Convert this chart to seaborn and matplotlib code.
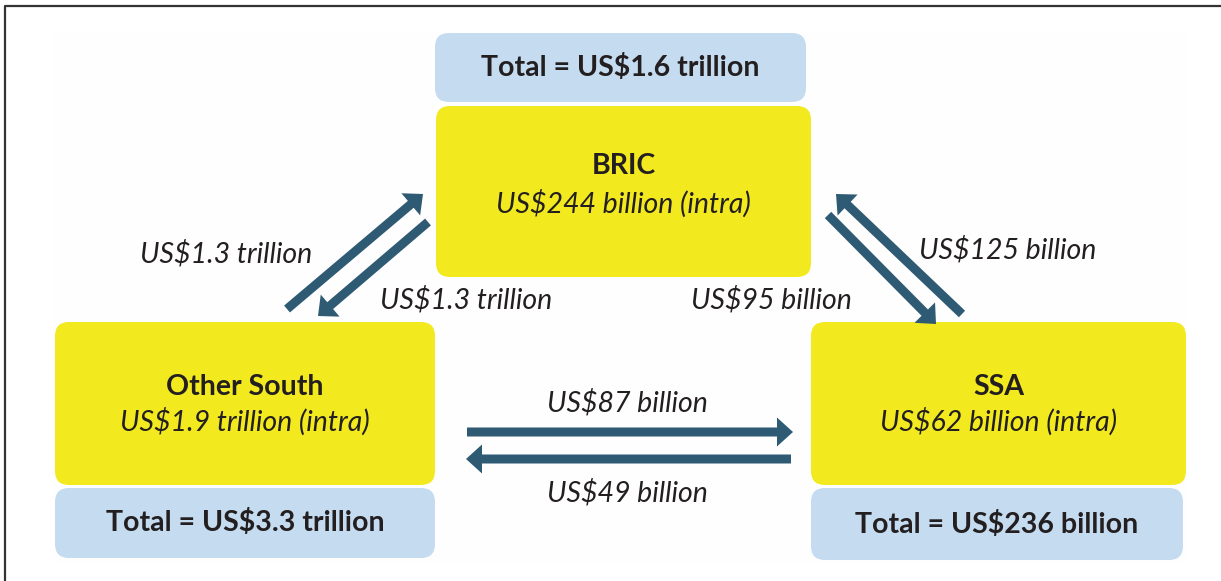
import matplotlib.pyplot as plt
import seaborn as sns
from matplotlib.patches import FancyBboxPatch, FancyArrow

# data
regions = ["BRIC", "Other South", "SSA"]
intra = ["US$244 billion (intra)", "US$1.9 trillion (intra)", "US$62 billion (intra)"]
totals = ["Total = US$1.6 trillion", "Total = US$3.3 trillion", "Total = US$236 billion"]
flow_src = ["Other South", "BRIC", "BRIC", "SSA", "Other South", "SSA"]
flow_dst = ["BRIC", "Other South", "SSA", "BRIC", "SSA", "Other South"]
flow_labels = ["US$1.3 trillion", "US$1.3 trillion", "US$95 billion",
               "US$125 billion", "US$87 billion", "US$49 billion"]

sns.set_style("white")
plt.rcParams["font.family"] = ["Lato", "DejaVu Sans"]

yellow = "#F2EA1F"
blue = "#C5DBF0"
arrow_col = "#2F5A73"
txt = "#231F20"
fs = 20.5

# layout (pixel units, y down)
box = {"BRIC": (436, 106, 375, 171), "Other South": (55, 322, 380, 163), "SSA": (811, 322, 375, 163)}
name_y = {"BRIC": 166, "Other South": 387, "SSA": 387}
sub_y = {"BRIC": 204, "Other South": 422, "SSA": 422}
tot = {"BRIC": (435, 33, 371, 69), "Other South": (55, 488, 380, 70), "SSA": (811, 488, 372, 72)}
arrows = [((287, 309), (423, 194)), ((428, 222), (318, 316)), ((828, 215), (936, 324)),
          ((962, 314), (836, 194)), ((467, 432), (793, 432)), ((791, 459), (466, 459))]
label_pos = [(226, 254), (466, 300), (771, 300), (1008, 250), (627, 403), (627, 493)]

fig = plt.figure(figsize=(12.21, 5.81), dpi=100)
ax = fig.add_axes([0, 0, 1, 1])
ax.set_xlim(0, 1221)
ax.set_ylim(581, 0)
ax.axis("off")

# frame (open at right and bottom)
ax.plot([5, 5, 1221], [581, 6, 6], color="#333333", lw=1.6)
ax.add_patch(plt.Rectangle((55, 33), 1131, 527, color="#FEFEFE", zorder=0))

for name, sub, total in zip(regions, intra, totals):
    x, y, w, h = box[name]
    ax.add_patch(FancyBboxPatch((x, y), w, h, boxstyle="round,pad=0,rounding_size=14",
                                fc=yellow, ec="none", zorder=1))
    ax.text(x + w / 2, name_y[name], name, ha="center", va="center", fontsize=fs,
            fontweight="bold", color=txt, zorder=3)
    ax.text(x + w / 2, sub_y[name], sub, ha="center", va="center", fontsize=fs,
            style="italic", color=txt, zorder=3)
    x, y, w, h = tot[name]
    ax.add_patch(FancyBboxPatch((x, y), w, h, boxstyle="round,pad=0,rounding_size=14",
                                fc=blue, ec="none", zorder=1))
    ax.text(x + w / 2, y + h / 2, total, ha="center", va="center", fontsize=fs,
            fontweight="bold", color=txt, zorder=3)

for (p0, p1), lab, lp in zip(arrows, flow_labels, label_pos):
    dx, dy = p1[0] - p0[0], p1[1] - p0[1]
    ax.add_patch(FancyArrow(p0[0], p0[1], dx, dy, width=9, head_width=29, head_length=16,
                            length_includes_head=True, fc=arrow_col, ec="none", zorder=2))
    ax.text(lp[0], lp[1], lab, ha="center", va="center", fontsize=fs,
            style="italic", color=txt, zorder=3)

fig.savefig("out.png", dpi=100)
